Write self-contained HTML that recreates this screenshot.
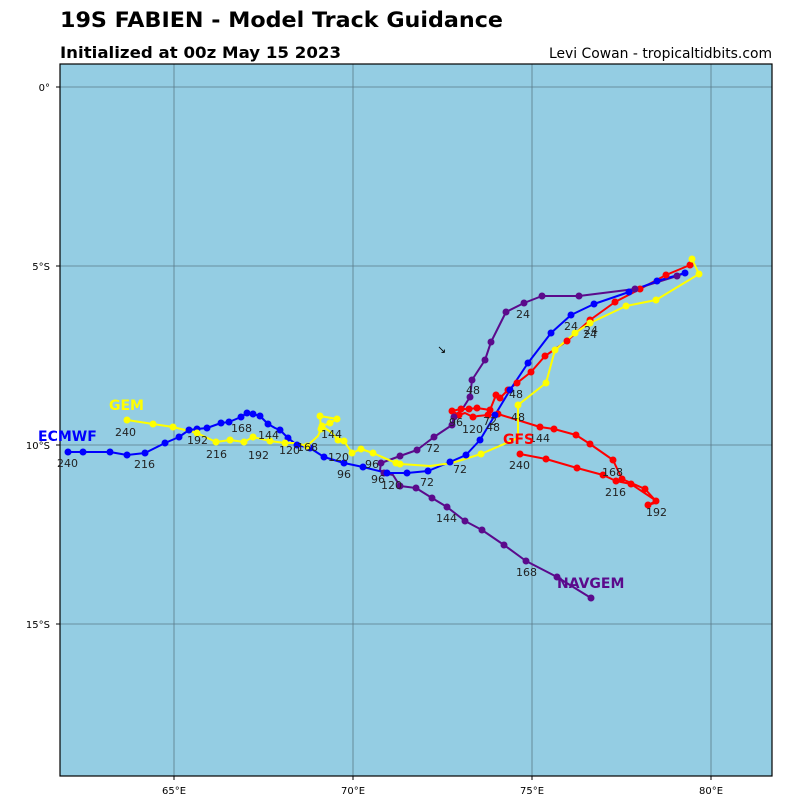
<!DOCTYPE html>
<html><head><style>body{margin:0;background:#fff}svg{display:block}</style></head><body>
<svg width="800" height="800" xmlns="http://www.w3.org/2000/svg" font-family="DejaVu Sans, Liberation Sans, sans-serif">
<text x="60" y="27" font-size="21" font-weight="bold" textLength="443" lengthAdjust="spacingAndGlyphs">19S FABIEN - Model Track Guidance</text>
<text x="60" y="58" font-size="16" font-weight="bold" textLength="281" lengthAdjust="spacingAndGlyphs">Initialized at 00z May 15 2023</text>
<text x="772" y="58" font-size="14" text-anchor="end" textLength="223" lengthAdjust="spacingAndGlyphs">Levi Cowan - tropicaltidbits.com</text>
<rect x="60" y="64" width="712" height="712" fill="#94cde3"/>
<g stroke="#5a7a88" stroke-width="0.8">
<line x1="174" y1="64" x2="174" y2="776"/><line x1="353" y1="64" x2="353" y2="776"/><line x1="532" y1="64" x2="532" y2="776"/><line x1="711" y1="64" x2="711" y2="776"/>
<line x1="60" y1="87" x2="772" y2="87"/><line x1="60" y1="266" x2="772" y2="266"/><line x1="60" y1="445" x2="772" y2="445"/><line x1="60" y1="624" x2="772" y2="624"/>
</g>
<rect x="60" y="64" width="712" height="712" fill="none" stroke="#000" stroke-width="1.2"/>
<g stroke="#000"><line x1="56" y1="87" x2="60" y2="87"/><line x1="56" y1="266" x2="60" y2="266"/><line x1="56" y1="445" x2="60" y2="445"/><line x1="56" y1="624" x2="60" y2="624"/>
<line x1="174" y1="776" x2="174" y2="780"/><line x1="353" y1="776" x2="353" y2="780"/><line x1="532" y1="776" x2="532" y2="780"/><line x1="711" y1="776" x2="711" y2="780"/></g>
<g font-size="10" text-anchor="end"><text x="50" y="91">0°</text><text x="50" y="270">5°S</text><text x="50" y="449">10°S</text><text x="50" y="628">15°S</text></g>
<g font-size="10" text-anchor="middle"><text x="174" y="794">65°E</text><text x="353" y="794">70°E</text><text x="532" y="794">75°E</text><text x="711" y="794">80°E</text></g>
<text x="437" y="353" font-size="11">↘</text>

<g fill="none" stroke-width="2" stroke-linejoin="round">
<polyline stroke="#ff0000" points="690,265 666,275 640,289 615,302 590,320 567,341 545,356 531,372 517,383 508,390 500,398 496,395 490,410 477,408 469,409 461,409 452,411 459,415 465,413 473,417 478,416 488,415 498,414 540,427 554,429 576,435 590,444 613,460 622,479 645,489 656,501 648,505 658,502 631,484 616,481 603,475 577,468 546,459 520,454"/>
<polyline stroke="#5b0a8c" points="685,273 677,276 635,289 579,296 542,296 524,303 506,312 491,342 485,360 472,380 470,397 463,408 454,417 452,425 434,437 417,450 400,456 381,463 380,470 384,473 393,475 400,486 416,488 432,498 447,507 465,521 482,530 504,545 526,561 557,577 591,598"/>
<polyline stroke="#0000ff" points="685,273 657,281 629,292 594,304 571,315 551,333 528,363 510,390 495,415 480,440 466,455 450,462 428,471 407,473 387,473 363,467 344,463 324,457 310,448 297,445 288,438 280,430 275,428 268,424 260,416 253,414 247,413 241,417 229,422 221,423 207,428 197,429 189,430 179,437 165,443 145,453 127,455 110,452 83,452 68,452"/>
<polyline stroke="#ffff00" points="692,259 699,274 656,300 626,306 590,323 575,333 555,350 546,383 518,405 518,438 481,454 452,463 430,466 400,464 396,463 373,453 361,449 352,453 344,441 338,440 332,433 322,426 330,423 337,419 320,416 321,429 318,436 307,446 296,443 285,443 270,441 253,437 244,442 230,440 216,442 197,433 173,427 153,424 127,420"/>
</g>
<g fill="#ff0000">
<circle cx="690" cy="265" r="3.5"/><circle cx="666" cy="275" r="3.5"/><circle cx="640" cy="289" r="3.5"/><circle cx="615" cy="302" r="3.5"/><circle cx="590" cy="320" r="3.5"/><circle cx="567" cy="341" r="3.5"/><circle cx="545" cy="356" r="3.5"/><circle cx="531" cy="372" r="3.5"/><circle cx="517" cy="383" r="3.5"/><circle cx="508" cy="390" r="3.5"/><circle cx="500" cy="398" r="3.5"/><circle cx="496" cy="395" r="3.5"/><circle cx="490" cy="410" r="3.5"/><circle cx="477" cy="408" r="3.5"/><circle cx="469" cy="409" r="3.5"/><circle cx="461" cy="409" r="3.5"/><circle cx="452" cy="411" r="3.5"/><circle cx="459" cy="415" r="3.5"/><circle cx="473" cy="417" r="3.5"/><circle cx="488" cy="415" r="3.5"/><circle cx="498" cy="414" r="3.5"/><circle cx="540" cy="427" r="3.5"/><circle cx="554" cy="429" r="3.5"/><circle cx="576" cy="435" r="3.5"/><circle cx="590" cy="444" r="3.5"/><circle cx="613" cy="460" r="3.5"/><circle cx="622" cy="479" r="3.5"/><circle cx="645" cy="489" r="3.5"/><circle cx="656" cy="501" r="3.5"/><circle cx="648" cy="505" r="3.5"/><circle cx="631" cy="484" r="3.5"/><circle cx="616" cy="481" r="3.5"/><circle cx="603" cy="475" r="3.5"/><circle cx="577" cy="468" r="3.5"/><circle cx="546" cy="459" r="3.5"/><circle cx="520" cy="454" r="3.5"/>
</g>
<g fill="#5b0a8c">
<circle cx="677" cy="276" r="3.5"/><circle cx="635" cy="289" r="3.5"/><circle cx="579" cy="296" r="3.5"/><circle cx="542" cy="296" r="3.5"/><circle cx="524" cy="303" r="3.5"/><circle cx="506" cy="312" r="3.5"/><circle cx="491" cy="342" r="3.5"/><circle cx="485" cy="360" r="3.5"/><circle cx="472" cy="380" r="3.5"/><circle cx="470" cy="397" r="3.5"/><circle cx="454" cy="417" r="3.5"/><circle cx="452" cy="425" r="3.5"/><circle cx="434" cy="437" r="3.5"/><circle cx="417" cy="450" r="3.5"/><circle cx="400" cy="456" r="3.5"/><circle cx="381" cy="463" r="3.5"/><circle cx="384" cy="473" r="3.5"/><circle cx="400" cy="486" r="3.5"/><circle cx="416" cy="488" r="3.5"/><circle cx="432" cy="498" r="3.5"/><circle cx="447" cy="507" r="3.5"/><circle cx="465" cy="521" r="3.5"/><circle cx="482" cy="530" r="3.5"/><circle cx="504" cy="545" r="3.5"/><circle cx="526" cy="561" r="3.5"/><circle cx="557" cy="577" r="3.5"/><circle cx="591" cy="598" r="3.5"/>
</g>
<g fill="#0000ff">
<circle cx="685" cy="273" r="3.5"/><circle cx="657" cy="281" r="3.5"/><circle cx="629" cy="292" r="3.5"/><circle cx="594" cy="304" r="3.5"/><circle cx="571" cy="315" r="3.5"/><circle cx="551" cy="333" r="3.5"/><circle cx="528" cy="363" r="3.5"/><circle cx="510" cy="390" r="3.5"/><circle cx="495" cy="415" r="3.5"/><circle cx="480" cy="440" r="3.5"/><circle cx="466" cy="455" r="3.5"/><circle cx="450" cy="462" r="3.5"/><circle cx="428" cy="471" r="3.5"/><circle cx="407" cy="473" r="3.5"/><circle cx="387" cy="473" r="3.5"/><circle cx="363" cy="467" r="3.5"/><circle cx="344" cy="463" r="3.5"/><circle cx="324" cy="457" r="3.5"/><circle cx="310" cy="448" r="3.5"/><circle cx="297" cy="445" r="3.5"/><circle cx="288" cy="438" r="3.5"/><circle cx="280" cy="430" r="3.5"/><circle cx="268" cy="424" r="3.5"/><circle cx="260" cy="416" r="3.5"/><circle cx="253" cy="414" r="3.5"/><circle cx="247" cy="413" r="3.5"/><circle cx="241" cy="417" r="3.5"/><circle cx="229" cy="422" r="3.5"/><circle cx="221" cy="423" r="3.5"/><circle cx="207" cy="428" r="3.5"/><circle cx="197" cy="429" r="3.5"/><circle cx="189" cy="430" r="3.5"/><circle cx="179" cy="437" r="3.5"/><circle cx="165" cy="443" r="3.5"/><circle cx="145" cy="453" r="3.5"/><circle cx="127" cy="455" r="3.5"/><circle cx="110" cy="452" r="3.5"/><circle cx="83" cy="452" r="3.5"/><circle cx="68" cy="452" r="3.5"/>
</g>
<g fill="#ffff00">
<circle cx="692" cy="259" r="3.5"/><circle cx="699" cy="274" r="3.5"/><circle cx="656" cy="300" r="3.5"/><circle cx="626" cy="306" r="3.5"/><circle cx="590" cy="323" r="3.5"/><circle cx="575" cy="333" r="3.5"/><circle cx="555" cy="350" r="3.5"/><circle cx="546" cy="383" r="3.5"/><circle cx="518" cy="405" r="3.5"/><circle cx="481" cy="454" r="3.5"/><circle cx="400" cy="464" r="3.5"/><circle cx="396" cy="463" r="3.5"/><circle cx="373" cy="453" r="3.5"/><circle cx="361" cy="449" r="3.5"/><circle cx="352" cy="453" r="3.5"/><circle cx="344" cy="441" r="3.5"/><circle cx="338" cy="440" r="3.5"/><circle cx="322" cy="426" r="3.5"/><circle cx="330" cy="423" r="3.5"/><circle cx="337" cy="419" r="3.5"/><circle cx="320" cy="416" r="3.5"/><circle cx="321" cy="429" r="3.5"/><circle cx="307" cy="446" r="3.5"/><circle cx="285" cy="443" r="3.5"/><circle cx="270" cy="441" r="3.5"/><circle cx="253" cy="437" r="3.5"/><circle cx="244" cy="442" r="3.5"/><circle cx="230" cy="440" r="3.5"/><circle cx="216" cy="442" r="3.5"/><circle cx="197" cy="433" r="3.5"/><circle cx="173" cy="427" r="3.5"/><circle cx="153" cy="424" r="3.5"/><circle cx="127" cy="420" r="3.5"/>
</g>
<g font-size="11" fill="#222">
<text x="516" y="318">24</text><text x="564" y="330">24</text><text x="584" y="334">24</text><text x="583" y="338">24</text>
<text x="509" y="398">48</text><text x="466" y="394">48</text><text x="511" y="421">48</text><text x="486" y="431">48</text><text x="483" y="425">72</text>
<text x="449" y="426">96</text><text x="462" y="433">120</text><text x="426" y="452">72</text><text x="453" y="473">72</text><text x="420" y="486">72</text>
<text x="365" y="468">96</text><text x="371" y="483">96</text><text x="381" y="489">120</text><text x="337" y="478">96</text><text x="328" y="461">120</text>
<text x="321" y="438">144</text><text x="279" y="454">120</text><text x="297" y="451">168</text><text x="258" y="439">144</text><text x="231" y="432">168</text>
<text x="187" y="444">192</text><text x="248" y="459">192</text><text x="206" y="458">216</text><text x="134" y="468">216</text><text x="57" y="467">240</text><text x="115" y="436">240</text>
<text x="529" y="442">144</text><text x="509" y="469">240</text><text x="602" y="476">168</text><text x="605" y="496">216</text><text x="646" y="516">192</text>
<text x="436" y="522">144</text><text x="516" y="576">168</text>
</g>
<g font-weight="bold" font-size="14">
<text x="109" y="410" fill="#ffff00">GEM</text>
<text x="38" y="441" fill="#0000ff">ECMWF</text>
<text x="503" y="444" fill="#ff0000">GFS</text>
<text x="557" y="588" fill="#5b0a8c">NAVGEM</text>
</g>
</svg>
</body></html>
